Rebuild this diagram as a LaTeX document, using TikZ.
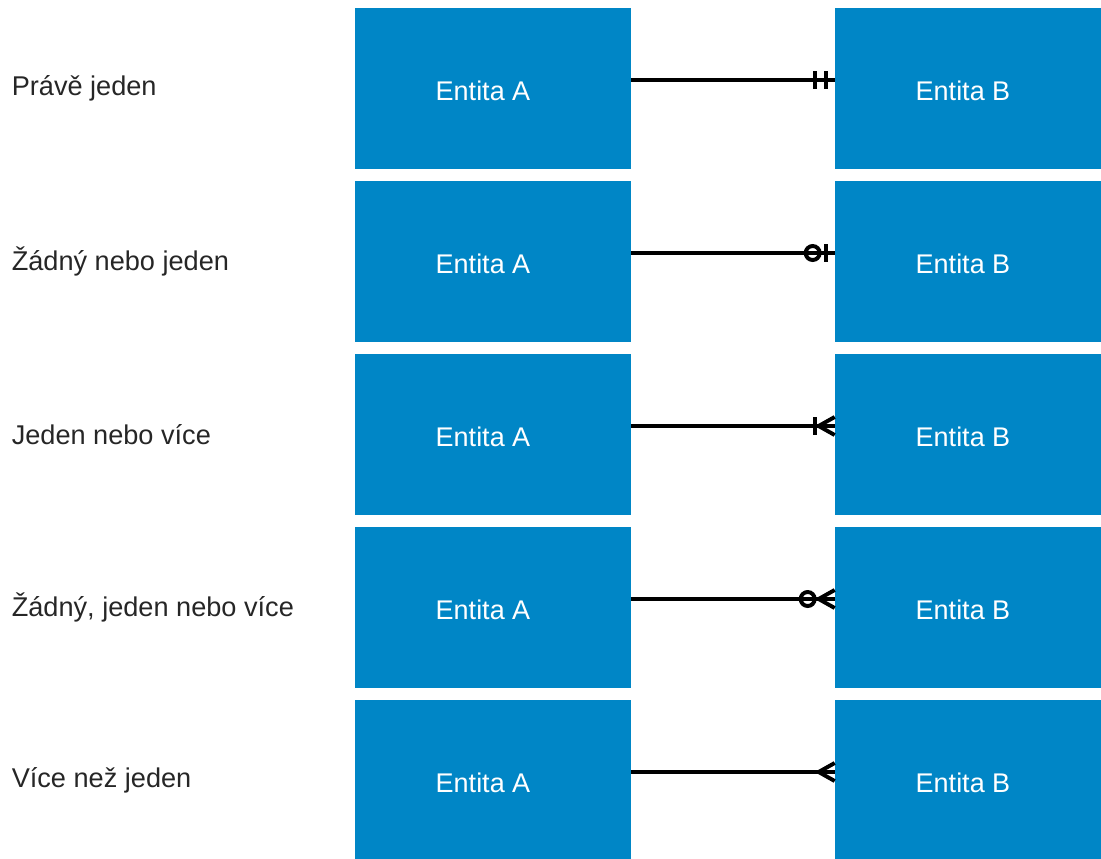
\documentclass[tikz,border=0pt]{standalone}
\usepackage{fontspec}
\setmainfont{Liberation Sans}
\usetikzlibrary{calc}
\definecolor{entblue}{HTML}{0086C6}

\begin{document}
\begin{tikzpicture}[x=0.025cm, y=-0.025cm,
    entity/.style={fill=entblue, minimum width=6.9cm, minimum height=4.025cm, inner sep=0pt},
    enttext/.style={text=white, inner sep=0pt, font=\fontsize{19.2}{24}\selectfont},
    cardtext/.style={text=black!85, anchor=west, inner sep=0pt, font=\fontsize{19.3}{24}\selectfont},
    rel/.style={black, line width=2.3pt},
    relend/.style={black, line width=2.8pt}]

\useasboundingbox (0,0) rectangle (1101,858);
\clip (0,0) rectangle (1101,858);

    %entities and labels
    \foreach \i/\t in {1/Právě jeden, 2/Žádný nebo jeden, 3/Jeden nebo více, 4/{Žádný, jeden nebo více}, 5/Více než jeden}{
        \pgfmathsetmacro\yy{88.5+173*(\i-1)}
        \node[entity] (a\i) at (493,\yy) {};
        \node[entity] (b\i) at (973,\yy) {};
        \node[enttext] at ([xshift=-0.25cm, yshift=-0.07cm]a\i.center) {Entita A};
        \node[enttext] at ([xshift=-0.25cm, yshift=-0.07cm]b\i.center) {Entita B};
        \node[cardtext] (l\i) at (11.5,\yy) {\t};
        \coordinate (s\i) at ([yshift=0.2125cm]a\i.east);
        \coordinate (e\i) at ([yshift=0.2125cm]b\i.west);
        \draw[rel] (s\i) -- (e\i);
    }

    %exactly one
    \draw[relend] ($(e1)+(-20,-9)$) -- ($(e1)+(-20,9)$);
    \draw[relend] ($(e1)+(-9,-9)$) -- ($(e1)+(-9,9)$);

    %zero or one
    \draw[relend] ($(e2)+(-22,0)$) circle (7);
    \draw[relend] ($(e2)+(-9,-9)$) -- ($(e2)+(-9,9)$);

    %one or more
    \draw[relend] ($(e3)+(-20,-9)$) -- ($(e3)+(-20,9)$);
    \draw[relend] ($(e3)+(0,-9)$) -- ($(e3)+(-16,0)$) -- ($(e3)+(0,9)$);

    %zero or more
    \draw[relend] ($(e4)+(-27,0)$) circle (7);
    \draw[relend] ($(e4)+(0,-9)$) -- ($(e4)+(-16,0)$) -- ($(e4)+(0,9)$);

    %many
    \draw[relend] ($(e5)+(0,-9)$) -- ($(e5)+(-16,0)$) -- ($(e5)+(0,9)$);
\end{tikzpicture}
\end{document}
